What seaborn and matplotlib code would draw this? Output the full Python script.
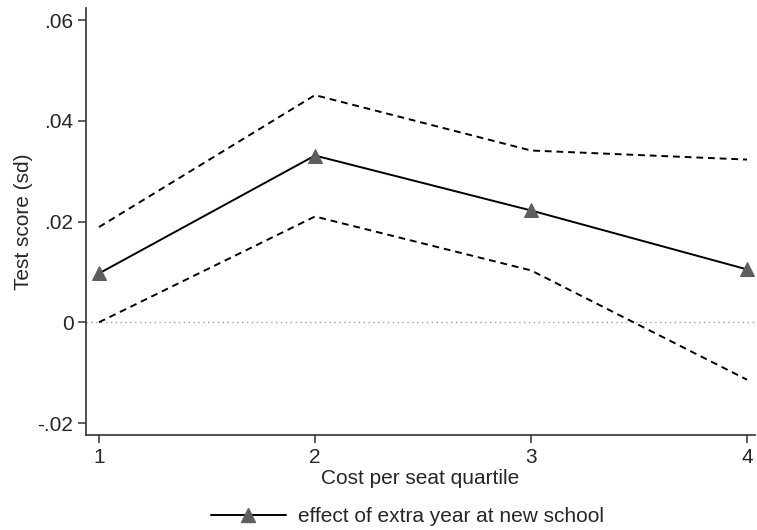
import matplotlib
matplotlib.use("Agg")
import matplotlib.pyplot as plt
import seaborn as sns
import pandas as pd
from matplotlib.lines import Line2D

# Effect estimates by cost-per-seat quartile with 95% bounds
quartile = [1, 2, 3, 4]
effect = [0.0097, 0.0331, 0.0222, 0.0105]
upper = [0.0189, 0.0451, 0.0341, 0.0323]
lower = [0.0000, 0.0210, 0.0103, -0.0114]
ytick_vals = [-0.02, 0, 0.02, 0.04, 0.06]
ytick_labels = ["-.02", "0", ".02", ".04", ".06"]
legend_label = "effect of extra year at new school"

sns.set_style("white")
plt.rcParams["font.family"] = ["Liberation Sans", "DejaVu Sans"]
plt.rcParams["font.size"] = 15

df = pd.DataFrame({"q": quartile, "effect": effect, "upper": upper, "lower": lower})

fig = plt.figure(figsize=(7.57, 5.30), dpi=100)
ax = fig.add_axes([0.1136, 0.179, 0.8838, 0.806])

ax.axhline(0, color="#a0a0a0", lw=1.0, ls=(0, (1, 2.5)), zorder=1)

sns.lineplot(data=df, x="q", y="upper", ax=ax, color="black", lw=1.4,
             linestyle=(0, (3.5, 2.5)), zorder=2)
sns.lineplot(data=df, x="q", y="lower", ax=ax, color="black", lw=1.4,
             linestyle=(0, (3.5, 2.5)), zorder=2)
sns.lineplot(data=df, x="q", y="effect", ax=ax, color="black", lw=1.4,
             marker="^", markersize=9.5, markerfacecolor="#5e5e5e",
             markeredgecolor="#5e5e5e", zorder=3)

ax.set_xlim(0.94, 4.037)
ax.set_ylim(-0.0224, 0.0624)
ax.set_xticks(quartile)
ax.set_xticklabels([str(q) for q in quartile])
ax.set_yticks(ytick_vals)
ax.set_yticklabels(ytick_labels)

for side in ["top", "right"]:
    ax.spines[side].set_visible(False)
for side in ["left", "bottom"]:
    ax.spines[side].set_color("#333333")
    ax.spines[side].set_linewidth(1.2)

ax.tick_params(axis="both", direction="out", length=6, width=1.1,
               color="#333333", labelsize=15, pad=3, bottom=True, left=True)

ax.set_xlabel("Cost per seat quartile", fontsize=15, labelpad=2)
ax.set_ylabel("Test score (sd)", fontsize=15, labelpad=3)

handle = Line2D([0], [0], color="black", lw=1.4, marker="^", markersize=9.5,
                markerfacecolor="#5e5e5e", markeredgecolor="#5e5e5e")
fig.legend([handle], [legend_label], loc="center", bbox_to_anchor=(0.538, 0.025),
           frameon=False, fontsize=15, handlelength=3.6, handletextpad=0.6)

fig.savefig("out.png", dpi=100)
